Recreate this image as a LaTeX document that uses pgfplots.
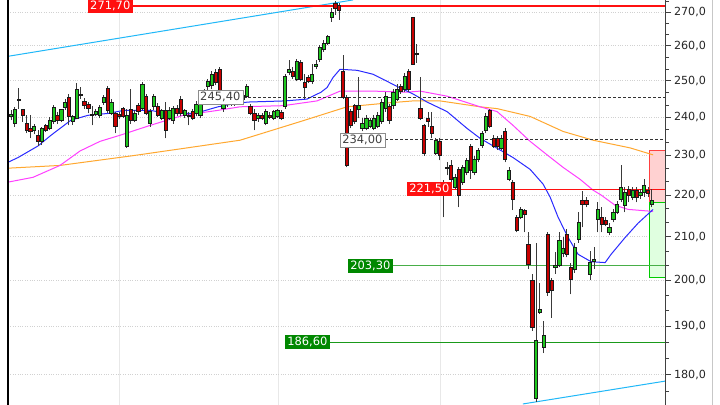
\documentclass[border=0pt]{standalone}
\usepackage{fontspec}
\setmainfont{DejaVu Sans}
\usepackage{pgfplots}
\usepackage{pgfplotstable}
\pgfplotsset{compat=1.18}

\definecolor{upcol}{HTML}{1EC81E}
\definecolor{dncol}{HTML}{C80000}
\definecolor{outl}{HTML}{1A1A1A}
\definecolor{wickcol}{HTML}{3A3A3A}
\definecolor{mablue}{HTML}{2A2AFF}
\definecolor{mamag}{HTML}{FF40FF}
\definecolor{maora}{HTML}{FFA830}
\definecolor{trend}{HTML}{20B8F8}
\definecolor{lvlred}{HTML}{FF1010}
\definecolor{lvlgreen}{HTML}{1A9A1A}
\definecolor{lblgreen}{HTML}{008800}

\tikzset{
  wick/.style={draw=wickcol, line width=0.9bp},
  body/.style={draw=outl, line width=0.6bp},
  lbl/.style={font=\fontsize{11.5}{13}\selectfont, inner xsep=2.5bp, inner ysep=2bp, anchor=east},
}

% candles: index, open, high, low, close
\pgfplotstableread{
i o h l c
0 240.2 241.8 239.2 240.7
1 238.3 242.8 237.5 242.0
2 244.6 247.9 242.3 244.9
3 242.0 242.3 238.8 240.5
4 238.3 240.5 235.7 236.5
5 237.0 240.5 234.4 236.2
6 236.5 238.3 235.4 237.5
7 235.2 236.5 232.4 233.6
8 233.6 237.5 232.6 237.0
9 237.8 238.3 236.0 236.5
10 237.0 240.0 236.5 239.2
11 238.8 243.4 238.3 242.6
12 240.5 241.5 238.3 239.2
13 239.2 242.3 238.6 242.0
14 242.6 244.9 242.0 244.1
15 245.4 246.3 237.8 240.2
16 238.8 240.7 238.0 240.2
17 239.7 249.3 239.5 247.6
18 246.3 248.1 244.9 246.0
19 244.4 245.2 242.3 243.1
20 243.4 244.1 241.0 242.3
21 240.5 243.1 237.8 240.7
22 240.7 242.3 240.2 241.5
23 240.5 243.4 239.7 242.6
24 244.1 246.0 243.4 245.4
25 247.9 248.4 241.2 241.8
26 241.0 244.9 240.5 244.1
27 241.0 241.5 235.7 237.5
28 240.7 241.5 239.5 240.2
29 242.3 242.8 239.7 240.2
30 232.4 242.3 231.9 240.5
31 242.0 247.6 238.3 239.2
32 239.2 241.8 238.6 241.0
33 243.1 243.9 240.7 241.5
34 242.3 249.6 241.8 249.0
35 245.7 246.3 240.5 241.0
36 238.3 242.3 237.5 241.5
37 242.8 246.3 241.8 245.7
38 242.8 243.9 240.0 240.5
39 239.7 242.3 239.2 241.8
40 241.8 244.1 234.4 236.5
41 239.7 242.8 239.2 241.8
42 239.2 243.1 238.3 242.3
43 242.3 243.4 240.2 241.0
44 244.9 245.7 240.2 241.0
45 240.5 242.3 239.7 241.8
46 240.5 241.3 237.8 240.2
47 241.5 242.3 239.2 239.7
48 241.0 244.4 240.2 243.6
49 240.5 244.9 239.7 244.1
50 243.9 247.6 243.4 247.1
51 248.4 250.4 246.3 249.8
52 248.7 252.6 247.6 251.8
53 252.4 253.2 248.7 249.6
54 253.2 253.8 244.9 245.4
55 242.3 245.4 241.5 244.9
56 243.4 245.7 242.8 244.9
57 245.4 246.0 243.1 243.9
58 243.9 245.4 243.1 244.9
59 244.6 246.3 243.9 245.7
60 246.0 246.5 244.1 244.9
61 245.7 249.0 245.2 248.4
62 242.8 243.6 240.5 241.0
63 241.0 242.3 236.5 239.2
64 239.7 241.0 238.8 240.5
65 240.5 241.0 239.2 239.7
66 238.3 242.3 237.8 241.5
67 240.5 241.3 239.5 240.0
68 239.7 242.0 239.2 241.5
69 240.2 242.3 239.7 241.8
70 241.3 241.8 239.2 239.7
71 242.8 251.8 242.3 251.2
72 252.4 255.9 251.5 253.2
73 252.6 253.8 250.4 251.2
74 250.4 256.2 249.8 255.6
75 255.3 255.9 249.8 250.4
76 249.6 251.8 244.9 248.1
77 250.9 251.5 249.3 249.8
78 249.8 254.6 249.0 251.8
79 254.0 255.9 253.2 254.6
80 255.9 260.2 255.3 259.4
81 258.8 261.7 258.2 260.8
82 260.8 263.1 260.2 262.8
83 268.2 271.2 267.0 270.0
84 272.6 273.4 269.1 271.2
85 272.1 272.7 267.6 270.6
86 252.6 257.3 244.9 245.4
87 245.4 246.0 226.9 227.4
88 241.5 242.3 237.0 237.8
89 243.1 243.6 238.3 238.8
90 242.0 250.9 239.7 243.1
91 237.0 239.7 236.2 238.3
92 237.0 240.5 236.5 239.7
93 237.5 239.7 237.0 239.2
94 237.0 240.5 236.5 239.7
95 237.5 241.3 237.0 240.5
96 238.8 244.9 238.3 244.1
97 242.3 246.8 241.5 245.7
98 242.8 243.6 238.3 239.2
99 243.1 247.6 242.3 246.8
100 244.9 249.0 244.4 247.6
101 248.4 249.0 246.3 247.1
102 247.6 252.1 246.8 251.2
103 252.6 253.2 246.8 247.6
104 268.2 268.2 254.6 254.6
105 257.6 260.5 255.0 257.9
106 242.3 250.9 239.2 239.7
107 237.8 238.3 229.9 230.6
108 239.7 241.5 237.5 238.8
109 237.5 241.5 234.4 235.7
110 230.6 234.4 230.1 233.9
111 233.6 234.4 228.7 230.1
112 220.5 223.7 214.6 220.0
113 226.7 228.2 224.9 226.9
114 227.4 228.7 222.0 223.9
115 222.0 225.2 221.5 224.4
116 226.4 226.9 217.0 220.0
117 223.2 227.4 222.5 226.9
118 225.7 229.4 224.9 228.7
119 232.4 232.9 224.0 226.2
120 225.7 229.9 224.9 228.9
121 229.0 231.9 228.2 231.4
122 232.6 236.2 231.9 235.7
123 236.5 241.0 235.7 240.2
124 241.8 242.3 237.0 237.5
125 234.4 235.2 231.9 232.4
126 234.4 234.9 231.4 232.4
127 231.9 235.2 231.4 234.4
128 236.2 237.0 228.2 229.0
129 223.9 226.9 223.4 226.2
130 223.2 223.7 216.3 219.0
131 214.6 215.1 211.0 211.5
132 214.6 217.0 214.1 216.5
133 216.3 216.5 211.0 215.3
134 208.2 211.0 202.5 203.6
135 200.0 201.3 189.1 189.7
136 175.4 208.6 174.6 187.0
137 193.1 199.5 192.7 193.7
138 185.5 191.2 184.4 188.0
139 210.5 211.0 196.6 197.3
140 200.0 200.6 191.8 197.9
141 202.9 206.5 201.5 203.3
142 203.3 211.0 202.9 209.1
143 206.1 209.8 205.2 207.3
144 210.5 211.7 205.2 205.9
145 202.9 204.0 196.9 200.2
146 202.5 208.6 201.7 207.5
147 209.3 215.8 208.6 213.4
148 218.7 221.0 212.2 217.7
149 218.7 219.5 217.0 217.7
150 201.3 206.7 200.0 204.0
151 204.2 207.5 202.5 204.7
152 214.1 218.2 211.0 216.5
153 214.6 217.0 211.0 212.9
154 213.9 214.6 212.4 212.9
155 211.0 213.2 210.3 212.2
156 214.1 216.5 213.4 215.8
157 215.8 218.5 215.3 217.7
158 219.0 227.4 218.2 222.0
159 217.5 222.0 215.8 220.7
160 221.5 222.2 218.2 220.0
161 219.5 222.0 218.7 221.2
162 221.2 222.0 218.2 219.5
163 220.0 221.5 219.0 220.7
164 220.7 223.9 219.5 222.5
165 221.2 222.0 219.5 220.5
166 217.7 221.5 217.0 218.7
}\candles

% short moving average (blue)
\pgfplotstableread{
x y
-0.78 228.2
1.81 229.4
6.99 232.4
10.36 235.2
15.54 239.2
19.95 240.5
25.13 241.0
29.02 241.8
36.27 241.8
40.67 241.0
47.67 241.0
53.63 242.8
57.51 243.6
61.40 244.1
70.98 244.4
76.68 244.9
80.31 246.8
81.87 248.1
83.42 250.9
85.23 253.2
89.64 252.9
93.78 251.8
100.0 248.4
104.15 246.3
107.77 244.1
112.95 241.5
118.13 237.0
121.50 234.4
130.05 229.4
134.46 226.4
137.82 222.7
139.64 219.5
141.71 214.6
144.30 209.8
146.89 205.9
150.26 204.2
153.89 204.0
155.44 205.9
159.07 209.8
162.44 213.2
166.32 216.5
}\mashort

% medium moving average (magenta)
\pgfplotstableread{
x y
-0.78 223.2
5.70 224.4
12.69 227.4
17.88 231.1
23.06 233.6
28.24 235.2
36.01 237.8
44.56 240.5
53.37 241.8
59.33 242.8
70.47 243.1
79.27 244.4
85.23 247.1
93.78 247.1
102.59 246.8
105.96 247.1
112.95 245.7
121.50 242.8
125.91 241.5
130.05 237.8
134.46 233.6
138.86 230.1
143.01 226.9
147.41 223.9
150.78 221.2
152.85 220.0
156.48 217.5
159.84 216.5
166.32 216.0
}\mamid

% long moving average (orange)
\pgfplotstableread{
x y
-0.78 226.7
12.69 227.4
31.61 229.9
45.60 231.9
59.33 233.9
74.87 238.8
87.05 242.8
98.19 243.9
104.15 244.4
111.14 244.4
121.50 242.8
125.91 242.3
134.46 240.2
143.01 236.2
150.78 233.9
160.36 231.9
166.32 230.1
}\malong

\begin{document}
\begin{tikzpicture}
\begin{axis}[
  name=main,
  at={(8bp,0bp)}, anchor=south west,
  scale only axis, width=657bp, height=405bp,
  ymode=log, ymin=174, ymax=273.6,
  xmin=-0.78, xmax=169.4,
  axis line style={draw=none},
  axis background/.style={fill=white},
  xtick={27.98,69.17,111.14,152.33}, xticklabels={},
  x tick style={draw=none},
  xmajorgrids, x grid style={draw=black!9},
  ytick={180,190,200,210,220,230,240,250,260,270},
  yticklabels={{180,0},{190,0},{200,0},{210,0},{220,0},{230,0},{240,0},{250,0},{260,0},{270,0}},
  minor ytick={176.667,183.333,186.667,193.333,196.667,203.333,206.667,213.333,216.667,223.333,226.667,233.333,236.667,243.333,246.667,253.333,256.667,263.333,266.667,273.333},
  ymajorgrids, y grid style={draw=black!18, dotted},
  ytick pos=right, yticklabel pos=right, tick align=outside,
  major tick length=6bp, minor tick length=4bp,
  y tick style={draw=black!75, line width=0.6bp},
  yticklabel style={font=\fontsize{11.2}{13}\selectfont, text=black!85, xshift=-0.5bp},
]
% trend lines
\addplot[trend, line width=1bp, forget plot] coordinates {(-0.78,256.9) (88.6,273.6)};
\addplot[trend, line width=1bp, forget plot] coordinates {(132.6,174.2) (169.4,178.7)};

% target boxes
\addplot[draw=red!75, fill=red!18, line width=0.9bp, forget plot] coordinates {(165.3,218.1) (169.4,218.1) (169.4,231.3) (165.3,231.3)} -- cycle;
\addplot[draw=green!80!black, fill=green!12, line width=0.9bp, forget plot] coordinates {(165.3,200.6) (169.4,200.6) (169.4,218.1) (165.3,218.1)} -- cycle;

% moving averages
\addplot[maora, line width=1bp, forget plot] table[x=x, y=y] {\malong};
\addplot[mamag, line width=1bp, forget plot] table[x=x, y=y] {\mamid};
\addplot[mablue, line width=1bp, forget plot] table[x=x, y=y] {\mashort};

% level lines
\addplot[lvlred, line width=1.8bp, forget plot] coordinates {(31.6,271.7) (169.4,271.7)};
\addplot[black!80, dash pattern=on 3bp off 2bp, line width=0.7bp, forget plot] coordinates {(60.1,245.4) (169.4,245.4)};
\addplot[black!80, dash pattern=on 3bp off 2bp, line width=0.7bp, forget plot] coordinates {(96.9,234.0) (169.4,234.0)};
\addplot[lvlred, line width=0.9bp, forget plot] coordinates {(114.25,221.5) (169.4,221.5)};
\addplot[lvlgreen!80, line width=1.1bp, forget plot] coordinates {(98.96,203.3) (169.4,203.3)};
\addplot[lvlgreen, line width=1.7bp, forget plot] coordinates {(82.64,186.6) (169.4,186.6)};

% candles
\pgfplotstablegetrowsof{\candles}
\pgfmathtruncatemacro\lastrow{\pgfplotsretval-1}
\pgfplotsinvokeforeach{0,...,\lastrow}{
  \pgfplotstablegetelem{#1}{o}\of{\candles}\let\vo\pgfplotsretval
  \pgfplotstablegetelem{#1}{h}\of{\candles}\let\vh\pgfplotsretval
  \pgfplotstablegetelem{#1}{l}\of{\candles}\let\vl\pgfplotsretval
  \pgfplotstablegetelem{#1}{c}\of{\candles}\let\vc\pgfplotsretval
  \ifdim\vc pt<\vo pt \def\bodycol{dncol}\else\def\bodycol{upcol}\fi
  \pgfmathsetmacro\xa{#1-0.42}
  \pgfmathsetmacro\xb{#1+0.42}
  \edef\next{%
    \noexpand\addplot[wick, forget plot] coordinates {(#1,\vl) (#1,\vh)};
    \noexpand\addplot[body, fill=\bodycol, forget plot] coordinates {(\xa,\vo) (\xb,\vo) (\xb,\vc) (\xa,\vc)} -- cycle;
  }%
  \next
}

% level labels
\node[lbl, fill=lvlred, text=white] at (axis cs:31.6,271.7) {271,70};
\node[lbl, fill=white, draw=black!45, text=black!75] at (axis cs:60.1,245.4) {245,40};
\node[lbl, fill=white, draw=black!45, text=black!75] at (axis cs:96.9,234.0) {234,00};
\node[lbl, fill=lvlred, text=white] at (axis cs:114.25,221.5) {221,50};
\node[lbl, fill=lblgreen, text=white] at (axis cs:98.96,203.3) {203,30};
\node[lbl, fill=lblgreen, text=white] at (axis cs:82.64,186.6) {186,60};
\end{axis}
\draw[black, line width=1.5bp] (main.south west) -- (main.north west);
\draw[black!75, line width=0.8bp] (main.south east) -- (main.north east);
\draw[black!22, line width=0.8bp] (712bp,0) -- (712bp,405bp);
\pgfresetboundingbox
\path[use as bounding box] (0,0) rectangle (720bp,405bp);
\end{tikzpicture}
\end{document}
